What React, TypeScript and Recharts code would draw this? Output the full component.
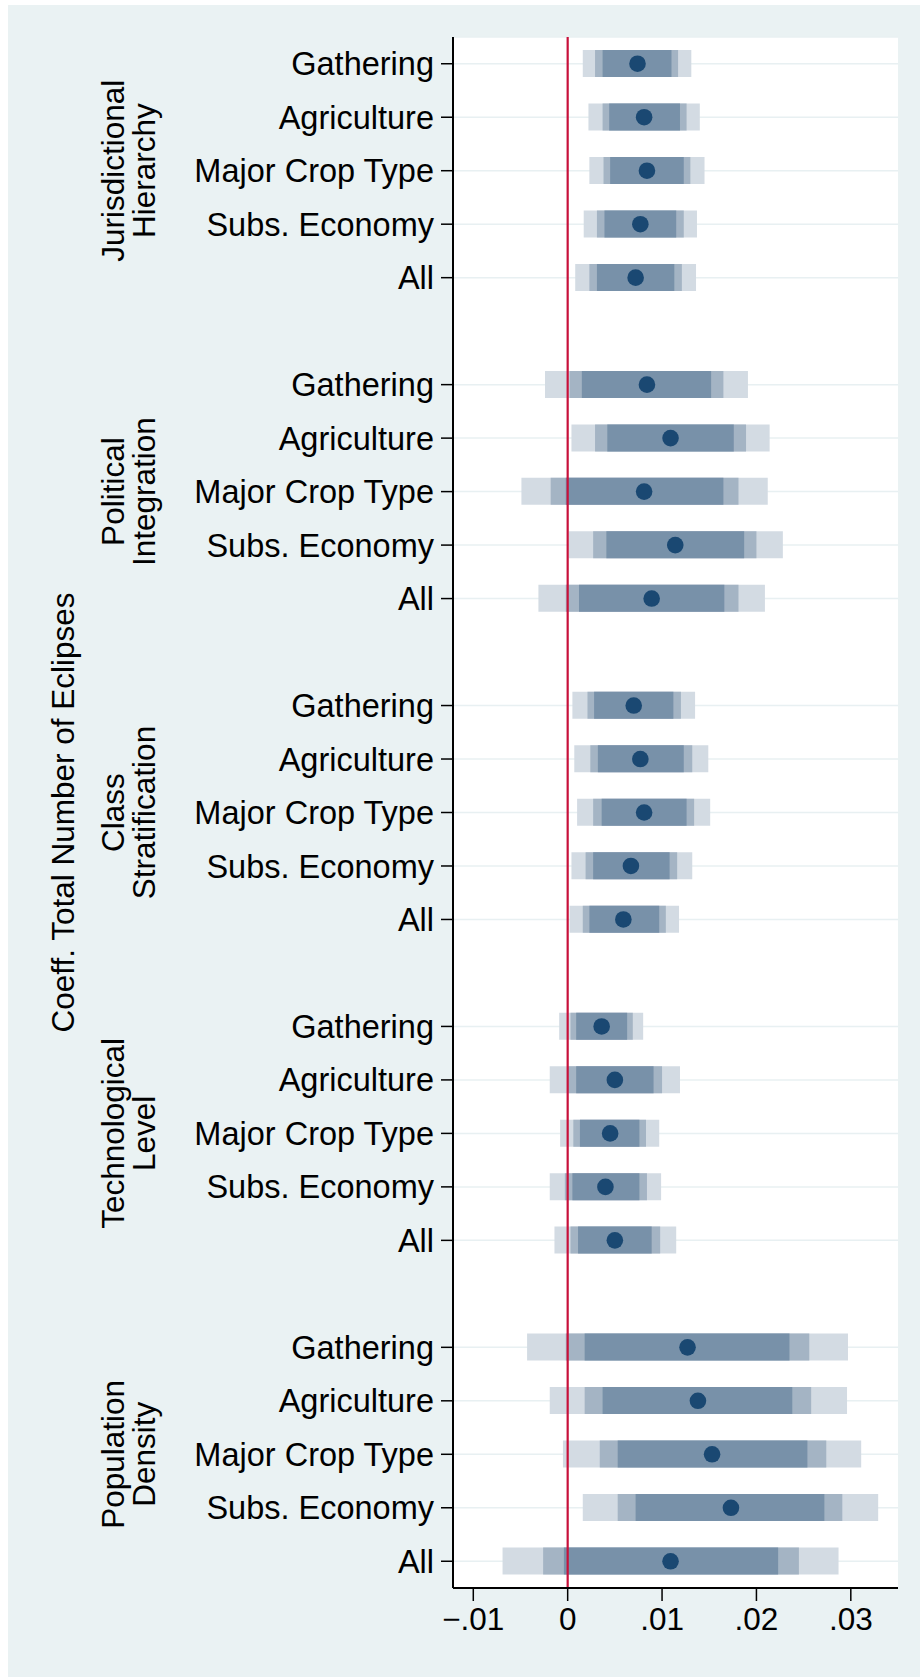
import React from 'react';
import { ComposedChart, Bar, Scatter, XAxis, YAxis, CartesianGrid, ReferenceLine } from 'recharts';

const FONT = '"Liberation Sans", Arial, Helvetica, sans-serif';

const groupTitles = [
  ['Jurisdictional', 'Hierarchy'],
  ['Political', 'Integration'],
  ['Class', 'Stratification'],
  ['Technological', 'Level'],
  ['Population', 'Density'],
];
const rowLabels = ['Gathering', 'Agriculture', 'Major Crop Type', 'Subs. Economy', 'All'];

const xTicks = [-0.01, 0, 0.01, 0.02, 0.03];
const xTickLabels = ['\u2212.01', '0', '.01', '.02', '.03'];

// point estimates, 5 rows per group, groups in display order
const coef = [
  0.0074, 0.0081, 0.0084, 0.0077, 0.0072,
  0.0084, 0.0109, 0.0081, 0.0114, 0.0089,
  0.0070, 0.0077, 0.0081, 0.0067, 0.0059,
  0.0036, 0.0050, 0.0045, 0.0040, 0.0050,
  0.0127, 0.0138, 0.0153, 0.0173, 0.0109,
];
// inner interval (darkest band)
const lo90 = [
  0.0037, 0.0044, 0.0045, 0.0039, 0.0031,
  0.0015, 0.0042, -0.0002, 0.0041, 0.0012,
  0.0028, 0.0032, 0.0036, 0.0027, 0.0023,
  0.0009, 0.0009, 0.0013, 0.0005, 0.0011,
  0.0018, 0.0037, 0.0053, 0.0072, -0.0004,
];
const hi90 = [
  0.0110, 0.0119, 0.0123, 0.0115, 0.0113,
  0.0152, 0.0176, 0.0165, 0.0187, 0.0166,
  0.0112, 0.0123, 0.0126, 0.0108, 0.0097,
  0.0063, 0.0091, 0.0076, 0.0076, 0.0089,
  0.0235, 0.0238, 0.0254, 0.0272, 0.0223,
];
// middle interval
const lo95 = [
  0.0029, 0.0037, 0.0038, 0.0031, 0.0023,
  0.0002, 0.0029, -0.0018, 0.0027, -0.0002,
  0.0021, 0.0024, 0.0027, 0.0019, 0.0016,
  0.0003, -0.0000, 0.0006, -0.0003, 0.0003,
  -0.0002, 0.0018, 0.0034, 0.0053, -0.0026,
];
const hi95 = [
  0.0117, 0.0126, 0.0130, 0.0123, 0.0121,
  0.0165, 0.0189, 0.0181, 0.0200, 0.0181,
  0.0120, 0.0132, 0.0134, 0.0116, 0.0104,
  0.0069, 0.0100, 0.0083, 0.0084, 0.0098,
  0.0256, 0.0258, 0.0274, 0.0291, 0.0245,
];
// outer interval (lightest band)
const lo99 = [
  0.0016, 0.0022, 0.0023, 0.0017, 0.0008,
  -0.0024, 0.0004, -0.0049, 0.0001, -0.0031,
  0.0005, 0.0007, 0.0010, 0.0004, 0.0002,
  -0.0009, -0.0019, -0.0008, -0.0019, -0.0014,
  -0.0043, -0.0019, -0.0005, 0.0016, -0.0069,
];
const hi99 = [
  0.0131, 0.0140, 0.0145, 0.0137, 0.0136,
  0.0191, 0.0214, 0.0212, 0.0228, 0.0209,
  0.0135, 0.0149, 0.0151, 0.0132, 0.0118,
  0.0080, 0.0119, 0.0097, 0.0099, 0.0115,
  0.0297, 0.0296, 0.0311, 0.0329, 0.0287,
];

// one empty slot between groups
const data = coef.map((c, i) => ({
  slot: Math.floor(i / 5) * 6 + (i % 5),
  pt: c,
  ci90: [lo90[i], hi90[i]],
  ci95: [lo95[i], hi95[i]],
  ci99: [lo99[i], hi99[i]],
}));
const rowTicks = data.map((d) => d.slot);

const RowTick = (props: any) => {
  const { x, y, payload } = props;
  const slot = payload.value;
  const r = slot % 6;
  const g = Math.floor(slot / 6);
  const gx = x - 310;
  const tx = x - 360;
  return (
    <g fontFamily={FONT} fill="#000">
      <text x={x} y={y} dy="0.355em" textAnchor="end" fontSize={32.5}>
        {rowLabels[r]}
      </text>
      {r === 2 && (
        <text transform={`rotate(-90, ${gx}, ${y})`} x={gx} y={y} textAnchor="middle" fontSize={31.5}>
          <tspan x={gx} dy={0}>{groupTitles[g][0]}</tspan>
          <tspan x={gx} dy={31}>{groupTitles[g][1]}</tspan>
        </text>
      )}
      {slot === 14 && (
        <text transform={`rotate(-90, ${tx}, ${y})`} x={tx} y={y} textAnchor="middle" fontSize={31.5}>
          Coeff. Total Number of Eclipses
        </text>
      )}
    </g>
  );
};

const Dot = (props: any) => <circle cx={props.cx} cy={props.cy} r={8.3} fill="#1A4872" />;

export default function App() {
  return (
    <div style={{ position: 'absolute', left: 8, top: 5, width: 912, height: 1672, background: '#EAF2F3' }}>
      <ComposedChart
        width={912}
        height={1672}
        data={data}
        layout="vertical"
        margin={{ top: 32, right: 22, bottom: 29, left: 0 }}
        barSize={27}
        barGap={-27}
      >
        <CartesianGrid vertical={false} fill="#fff" stroke="#E8F0F2" strokeWidth={1.5} />
        <XAxis
          type="number"
          domain={[-0.01215, 0.035]}
          ticks={xTicks}
          allowDataOverflow
          interval={0}
          height={60}
          tickSize={13}
          tickMargin={7}
          tickFormatter={(v: number, i: number) => xTickLabels[i]}
          axisLine={{ stroke: '#000', strokeWidth: 2 }}
          tickLine={{ stroke: '#000', strokeWidth: 1.5 }}
          tick={{ fill: '#000', fontSize: 31.5, fontFamily: FONT }}
        />
        <YAxis
          type="number"
          dataKey="slot"
          domain={[-0.5, 28.5]}
          allowDataOverflow
          ticks={rowTicks}
          interval={0}
          width={445}
          tickSize={12}
          tickMargin={7}
          axisLine={{ stroke: '#000', strokeWidth: 2 }}
          tickLine={{ stroke: '#000', strokeWidth: 1.5 }}
          tick={RowTick}
        />
        <Bar dataKey="ci99" fill="#D3DBE3" isAnimationActive={false} />
        <Bar dataKey="ci95" fill="#A4B4C4" isAnimationActive={false} />
        <Bar dataKey="ci90" fill="#7891A9" isAnimationActive={false} />
        <ReferenceLine x={0} stroke="#C8103A" strokeWidth={2.2} />
        <Scatter dataKey="pt" shape={Dot} isAnimationActive={false} />
      </ComposedChart>
    </div>
  );
}
